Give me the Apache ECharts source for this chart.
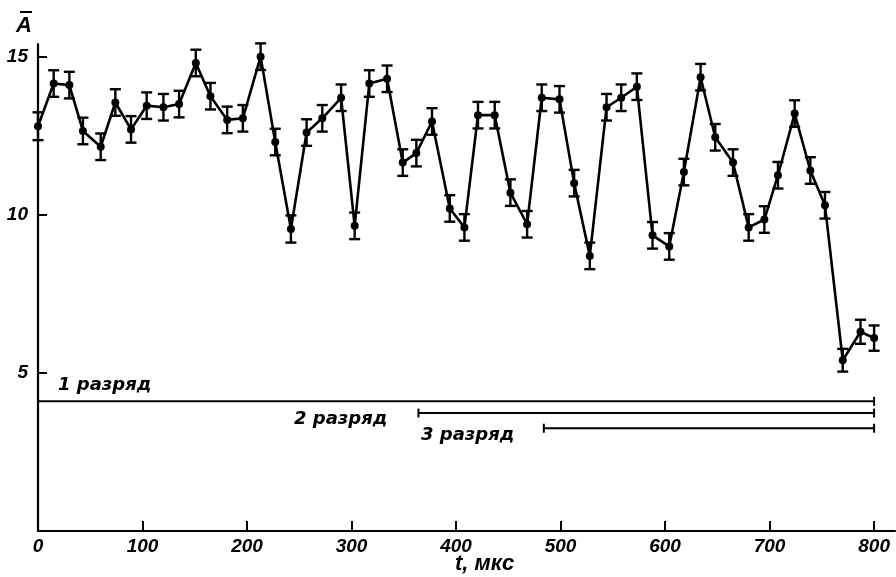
<!DOCTYPE html>
<html><head><meta charset="utf-8">
<script src="https://cdn.jsdelivr.net/npm/echarts@6/dist/echarts.min.js"></script>
<style>html,body{margin:0;padding:0;background:#fff}#c{width:896px;height:577px}</style>
</head><body><div id="c"></div>
<script>
// time, μs
const times = [0,15,30,43,60,74,89,104,120,135,151,165,181,196,213,227,242,257,272,290,303,317,334,349,362,377,394,408,421,437,452,468,482,499,513,528,544,558,573,588,604,618,634,648,665,680,695,708,724,739,753,770,787,800];
// mean amplitude A
const values = [12.8,14.15,14.1,12.65,12.15,13.55,12.7,13.45,13.4,13.5,14.8,13.75,13.0,13.05,15.0,12.3,9.55,12.6,13.05,13.7,9.65,14.15,14.3,11.65,11.95,12.95,10.2,9.6,13.15,13.15,10.7,9.7,13.7,13.65,11.0,8.7,13.4,13.7,14.05,9.35,9.0,11.35,14.35,12.45,11.65,9.6,9.85,11.25,13.2,11.4,10.3,5.4,6.3,6.1];
// error half-widths
const errors = [0.44,0.42,0.42,0.42,0.42,0.42,0.42,0.42,0.42,0.42,0.42,0.42,0.42,0.42,0.42,0.42,0.43,0.42,0.42,0.42,0.42,0.42,0.42,0.42,0.42,0.42,0.42,0.42,0.42,0.42,0.42,0.42,0.42,0.42,0.42,0.42,0.42,0.42,0.42,0.42,0.42,0.42,0.42,0.42,0.42,0.42,0.42,0.42,0.42,0.42,0.42,0.36,0.38,0.40];
const xTicks = [0,100,200,300,400,500,600,700,800];
const yTicks = [5,10,15];
// discharge ranges
const rangeNames = ['1 разряд','2 разряд','3 разряд'];
const rangeStarts = [0,364,484];
const rangeEnds = [800,800,800];
const rangeLevels = [4.1,3.73,3.25];

const font = "'Liberation Sans', Arial, sans-serif";
const font2 = "'DejaVu Sans', sans-serif";
const chart = echarts.init(document.getElementById('c'), null, {renderer:'canvas'});

const pts = times.map((t,i)=>[t, values[i]]);
const errData = times.map((t,i)=>[t, values[i], errors[i]]);
const rangeData = rangeNames.map((n,i)=>[rangeStarts[i], rangeEnds[i], rangeLevels[i]]);

function renderErr(params, api){
  const x = api.value(0), y = api.value(1), e = api.value(2);
  const top = api.coord([x, y+e]), bot = api.coord([x, y-e]);
  const w = 5.5;
  const st = {stroke:'#000', lineWidth:2.4};
  return {type:'group', children:[
    {type:'line', shape:{x1:top[0],y1:top[1],x2:bot[0],y2:bot[1]}, style:st},
    {type:'line', shape:{x1:top[0]-w,y1:top[1],x2:top[0]+w,y2:top[1]}, style:st},
    {type:'line', shape:{x1:bot[0]-w,y1:bot[1],x2:bot[0]+w,y2:bot[1]}, style:st}
  ]};
}
function renderRange(params, api){
  const a = api.coord([api.value(0), api.value(2)]);
  const b = api.coord([api.value(1), api.value(2)]);
  const h = 4.5;
  const st = {stroke:'#000', lineWidth:2};
  return {type:'group', children:[
    {type:'line', shape:{x1:a[0],y1:a[1],x2:b[0],y2:b[1]}, style:st},
    {type:'line', shape:{x1:a[0],y1:a[1]-h,x2:a[0],y2:a[1]+h}, style:st},
    {type:'line', shape:{x1:b[0],y1:b[1]-h,x2:b[0],y2:b[1]+h}, style:st}
  ]};
}

const labelStyle = {fill:'#000', fontFamily:font2, fontWeight:'bold', fontStyle:'italic', fontSize:18};

chart.setOption({
  backgroundColor:'#fff',
  animation:false,
  grid:{left:38, right:1, top:44, bottom:46},
  xAxis:{
    type:'value', min:0, max:820,
    axisLine:{show:true, lineStyle:{color:'#000', width:2.2}},
    axisTick:{show:true, inside:true, length:10, lineStyle:{color:'#000', width:2}, customValues:xTicks},
    axisLabel:{color:'#000', fontFamily:font, fontWeight:'bold', fontStyle:'italic', fontSize:19, margin:6, customValues:xTicks},
    splitLine:{show:false}
  },
  yAxis:{
    type:'value', min:0, max:15.4,
    axisLine:{show:true, lineStyle:{color:'#000', width:2.2}},
    axisTick:{show:true, inside:true, length:9, lineStyle:{color:'#000', width:2}, customValues:yTicks},
    axisLabel:{color:'#000', fontFamily:font, fontWeight:'bold', fontStyle:'italic', fontSize:19, margin:10, customValues:yTicks},
    splitLine:{show:false}
  },
  graphic:[
    {type:'text', left:16, top:15, style:{text:'A', fill:'#000', fontFamily:font, fontWeight:'bold', fontStyle:'italic', fontSize:22}},
    {type:'line', shape:{x1:20,y1:12,x2:32,y2:12}, style:{stroke:'#000', lineWidth:2}},
    {type:'text', left:455, top:553, style:{text:'t, мкс', fill:'#000', fontFamily:font, fontWeight:'bold', fontStyle:'italic', fontSize:22}},
    {type:'text', left:58, top:376, style:Object.assign({text:rangeNames[0]}, labelStyle)},
    {type:'text', left:294, top:410, style:Object.assign({text:rangeNames[1]}, labelStyle)},
    {type:'text', left:421, top:426, style:Object.assign({text:rangeNames[2]}, labelStyle)}
  ],
  series:[
    {type:'custom', renderItem:renderRange, data:rangeData, silent:true, z:2},
    {type:'custom', renderItem:renderErr, data:errData, silent:true, z:3},
    {type:'line', data:pts, symbol:'circle', symbolSize:8, showSymbol:true,
     lineStyle:{color:'#000', width:2.6}, itemStyle:{color:'#000'}, z:4}
  ]
});
</script></body></html>
